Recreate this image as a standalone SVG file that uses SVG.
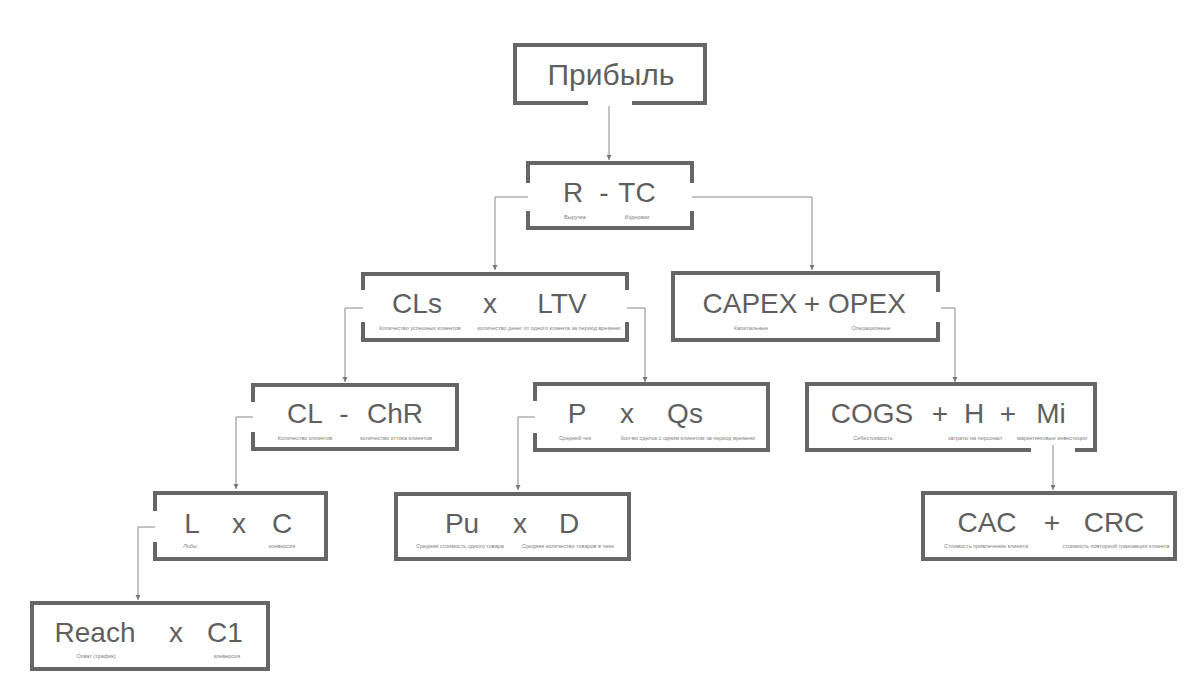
<svg xmlns="http://www.w3.org/2000/svg" width="1200" height="693" viewBox="0 0 1200 693">
<style>
.box{fill:none;stroke:#666;stroke-width:4;stroke-linecap:butt}
.t{font-family:"Liberation Sans",Arial,sans-serif;font-size:28px;fill:#5f5f5f;text-anchor:middle}
.s{font-family:"Liberation Sans",Arial,sans-serif;font-size:5.5px;fill:#808080;text-anchor:middle}
.c{fill:none;stroke:#888;stroke-width:1}
</style>
<defs>
<marker id="ah" markerUnits="userSpaceOnUse" markerWidth="6" markerHeight="6" refX="5" refY="3" orient="auto">
<path d="M0,0.5 L5,3 L0,5.5 Z" fill="#777"/>
</marker>
</defs>
<rect width="1200" height="693" fill="#fff"/>
<g id="connectors">
<path class="c" d="M609,106 V160" marker-end="url(#ah)"/>
<path class="c" d="M528,197 H495 V270" marker-end="url(#ah)"/>
<path class="c" d="M692,197 H812 V270" marker-end="url(#ah)"/>
<path class="c" d="M363,308 H345 V382" marker-end="url(#ah)"/>
<path class="c" d="M627,308 H645 V382" marker-end="url(#ah)"/>
<path class="c" d="M941,308 H955 V382" marker-end="url(#ah)"/>
<path class="c" d="M253,417 H236 V489" marker-end="url(#ah)"/>
<path class="c" d="M535,417 H518 V490" marker-end="url(#ah)"/>
<path class="c" d="M1053,445 V490" marker-end="url(#ah)"/>
<path class="c" d="M155,527 H138 V600" marker-end="url(#ah)"/>
</g>
<g id="n-profit">
<path class="box" d="M588,103 H515 V45 H705 V103 H632"/>
<text class="t" x="611" y="85" style="font-size:30px">Прибыль</text>
</g>
<g id="n-rtc">
<path class="box" d="M528,183 V163 H692 V183 M692,211 V228 H528 V211"/>
<text class="t" x="573" y="202">R</text>
<text class="t" x="604" y="202">-</text>
<text class="t" x="637" y="202">TC</text>
<text class="s" x="575" y="219">Выручка</text>
<text class="s" x="637" y="219">Издержки</text>
</g>
<g id="n-clsltv">
<path class="box" d="M363,290 V274 H627 V290 M627,322 V340 H363 V322"/>
<text class="t" x="417" y="313">CLs</text>
<text class="t" x="490" y="313">x</text>
<text class="t" x="562" y="313">LTV</text>
<text class="s" x="420" y="330">Количество успешных клиентов</text>
<text class="s" x="549" y="330">количество денег от одного клиента за период времени</text>
</g>
<g id="n-capexopex">
<path class="box" d="M938,292 V273 H673 V340 H938 V322"/>
<text class="t" x="750" y="313">CAPEX</text>
<text class="t" x="812" y="313">+</text>
<text class="t" x="867" y="313">OPEX</text>
<text class="s" x="751" y="330">Капитальные</text>
<text class="s" x="871" y="330">Операционные</text>
</g>
<g id="n-clchr">
<path class="box" d="M253,402 V385 H457 V449 H253 V432"/>
<text class="t" x="305" y="423">CL</text>
<text class="t" x="344" y="423">-</text>
<text class="t" x="395" y="423">ChR</text>
<text class="s" x="305" y="440">Количество клиентов</text>
<text class="s" x="396" y="440">количество  оттока клиентов</text>
</g>
<g id="n-pqs">
<path class="box" d="M535,401 V384 H768 V450 H535 V433"/>
<text class="t" x="577" y="423">P</text>
<text class="t" x="627" y="423">x</text>
<text class="t" x="685" y="423">Qs</text>
<text class="s" x="575" y="440">Средний чек</text>
<text class="s" x="688" y="440">Кол-во сделок  с одним клиентом за период времени</text>
</g>
<g id="n-cogs">
<path class="box" d="M1031,450 H807 V384 H1095 V450 H1075"/>
<text class="t" x="872" y="423">COGS</text>
<text class="t" x="940" y="423">+</text>
<text class="t" x="974" y="423">H</text>
<text class="t" x="1008" y="423">+</text>
<text class="t" x="1051" y="423">Mi</text>
<text class="s" x="873" y="440">Себестоимость</text>
<text class="s" x="975" y="440">затраты на персонал</text>
<text class="s" x="1052" y="440">маркетинговые инвестиции</text>
</g>
<g id="n-lc">
<path class="box" d="M155,511 V493 H326 V559 H155 V542"/>
<text class="t" x="192" y="533">L</text>
<text class="t" x="239" y="533">x</text>
<text class="t" x="282" y="533">C</text>
<text class="s" x="190" y="548" style="font-style:italic">Лиды</text>
<text class="s" x="282" y="548">конверсия</text>
</g>
<g id="n-pud">
<rect class="box" x="396" y="494" width="233" height="65"/>
<text class="t" x="462" y="533">Pu</text>
<text class="t" x="520" y="533">x</text>
<text class="t" x="569" y="533">D</text>
<text class="s" x="460" y="548">Средняя стоимость одного товара</text>
<text class="s" x="568" y="548">Средняя количество товаров в чеке</text>
</g>
<g id="n-cac">
<rect class="box" x="923" y="493" width="252" height="66"/>
<text class="t" x="987" y="532">CAC</text>
<text class="t" x="1052" y="532">+</text>
<text class="t" x="1114" y="532">CRC</text>
<text class="s" x="986" y="548">Стоимость привлечение клиента</text>
<text class="s" x="1116" y="548">стоимость повторной транзакции клиента</text>
</g>
<g id="n-reach">
<rect class="box" x="32" y="603" width="236" height="66"/>
<text class="t" x="95" y="642">Reach</text>
<text class="t" x="176" y="642">x</text>
<text class="t" x="225" y="642">C1</text>
<text class="s" x="96" y="658">Охват (трафик)</text>
<text class="s" x="227" y="658">конверсия</text>
</g>
</svg>
